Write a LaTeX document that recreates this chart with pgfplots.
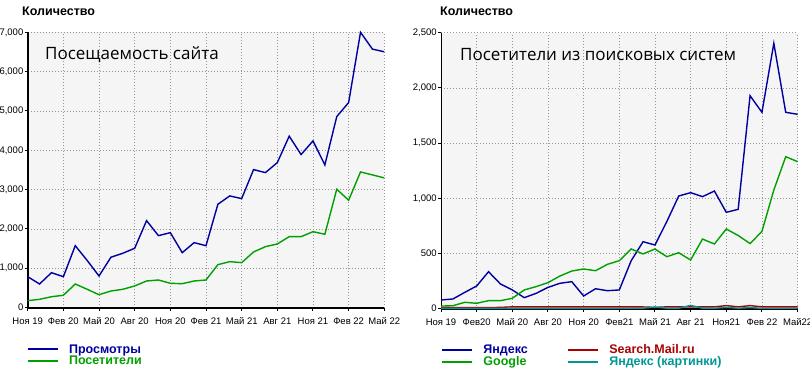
\documentclass[border=0pt]{standalone}
\usepackage{fontspec}
\setmainfont{Liberation Sans}
\newfontfamily\titlefont{Open Sans}
\usepackage{pgfplots}
\pgfplotsset{compat=1.18}
\definecolor{cblue}{RGB}{0,0,160}
\definecolor{cgreen}{RGB}{0,160,0}
\definecolor{cred}{RGB}{170,0,0}
\definecolor{cteal}{RGB}{0,150,150}
\definecolor{bgc}{RGB}{245,245,245}
\definecolor{gridc}{RGB}{150,150,150}

\pgfplotstableread{
i  views visitors
0  786  176
1  600  211
2  888  277
3  786  313
4  1575 600
5  1200 466
6  804  328
7  1280 422
8  1382 466
9  1509 550
10 2211 677
11 1830 702
12 1906 618
13 1397 608
14 1651 677
15 1575 702
16 2628 1092
17 2840 1168
18 2771 1143
19 3509 1415
20 3433 1550
21 3687 1618
22 4359 1804
23 3891 1804
24 4239 1931
25 3628 1865
26 4857 3010
27 5214 2730
28 7000 3450
29 6573 3374
30 6504 3298
}\traffic

\pgfplotstableread{
i  yandex google mail yimg
0  79   24   10 3
1  88   27   10 3
2  148  58   10 3
3  206  49   10 3
4  335  73   10 3
5  224  73   12 3
6  170  94   17 3
7  100  170  17 3
8  139  200  17 3
9  193  236  17 3
10 230  296  17 3
11 245  341  17 3
12 115  360  17 3
13 181  344  17 3
14 163  402  17 3
15 170  435  17 4
16 435  541  17 4
17 607  496  16 5
18 577  541  12 15
19 790  471  17 5
20 1021 507  17 5
21 1051 441  17 30
22 1015 631  17 5
23 1066 586  17 5
24 873  722  28 12
25 900  663  17 5
26 1929 590  28 10
27 1779 700  17 4
28 2404 1075 17 4
29 1779 1377 17 4
30 1761 1332 17 4
}\search

\pgfplotsset{mystyle/.style={
  scale only axis, width=356.6pt,
  xmin=0, xmax=30, ymin=0,
  xtick={0,3,...,30},
  axis x line*=bottom, axis y line*=left,
  axis line style={black, line width=2pt},
  tick align=outside, major tick length=3pt,
  tick style={black, line width=1pt},
  grid=major,
  grid style={gridc, line width=0.8pt, dash pattern=on 0.8pt off 2.2pt},
  axis background/.style={fill=bgc},
  ticklabel style={font=\fontsize{9.5}{11}\selectfont},
  yticklabel style={inner xsep=1.2pt},
  xticklabel style={yshift=-3.5pt},
  /pgf/number format/assume math mode=true,
  /pgf/number format/1000 sep={,},
  scaled y ticks=false,
  clip=false,
  legend cell align=left,
  legend image code/.code={\draw[##1, line width=2pt] (0pt,0.5pt) -- (30pt,0.5pt);},
  legend style={draw=none, fill=none, inner sep=0pt, outer sep=0pt,
    font=\bfseries\fontsize{12.5}{14}\selectfont, row sep=1.4pt,
    nodes={inner sep=0pt},
    /tikz/every odd column/.style={column sep=10.4pt}},
  every axis plot/.append style={line width=1.4pt},
}}

\begin{document}
\begin{tikzpicture}
\path[use as bounding box] (0,0) rectangle (810pt,376pt);

\begin{axis}[mystyle, at={(27.7pt,68.4pt)}, anchor=south west,
  height=275.3pt, ymax=7000, ytick={0,1000,...,7000},
  xticklabels={Ноя 19,Фев 20,Май 20,Авг 20,Ноя 20,Фев 21,Май 21,Авг 21,Ноя 21,Фев 22,Май 22},
  legend style={at={(axis description cs:-0.003,-0.135)}, anchor=north west}]
\addplot[cblue] table[x=i, y=views] {\traffic};
\addlegendentry{\textcolor{cblue}{Просмотры}}
\addplot[cgreen] table[x=i, y=visitors] {\traffic};
\addlegendentry{\textcolor{cgreen}{Посетители}}
\end{axis}

\begin{axis}[mystyle, at={(441pt,67.3pt)}, anchor=south west,
  height=276pt, ymax=2500, ytick={0,500,...,2500},
  xticklabels={Ноя 19,Фев20,Май 20,Авг 20,Ноя 20,Фев21,Май 21,Авг 21,Ноя21,Фев 22,Май22},
  y axis line style={line width=1pt},
  legend columns=2, transpose legend,
  legend style={at={(axis description cs:0,-0.131)}, anchor=north west,
    /tikz/every even column/.style={column sep=39pt}}]
\addplot[cblue] table[x=i, y=yandex] {\search};
\addlegendentry{\textcolor{cblue}{Яндекс}}
\addplot[cgreen] table[x=i, y=google] {\search};
\addlegendentry{\textcolor{cgreen}{Google}}
\addplot[cred] table[x=i, y=mail] {\search};
\addlegendentry{\textcolor{cred}{Search.Mail.ru}}
\addplot[cteal] table[x=i, y=yimg] {\search};
\addlegendentry{\textcolor{cteal}{Яндекс (картинки)}}
\end{axis}

\node[anchor=base west, inner sep=0pt, font=\bfseries\fontsize{12.5}{14}\selectfont] at (22pt,360pt) {Количество};
\node[anchor=base west, inner sep=0pt, font=\bfseries\fontsize{12.5}{14}\selectfont] at (440pt,360pt) {Количество};
\node[anchor=base west, inner sep=0pt, font=\titlefont\fontsize{17}{20}\selectfont] at (45pt,316.7pt) {Посещаемость сайта};
\node[anchor=base west, inner sep=0pt, font=\titlefont\fontsize{17}{20}\selectfont] at (460pt,316pt) {Посетители из поисковых систем};
\end{tikzpicture}
\end{document}
